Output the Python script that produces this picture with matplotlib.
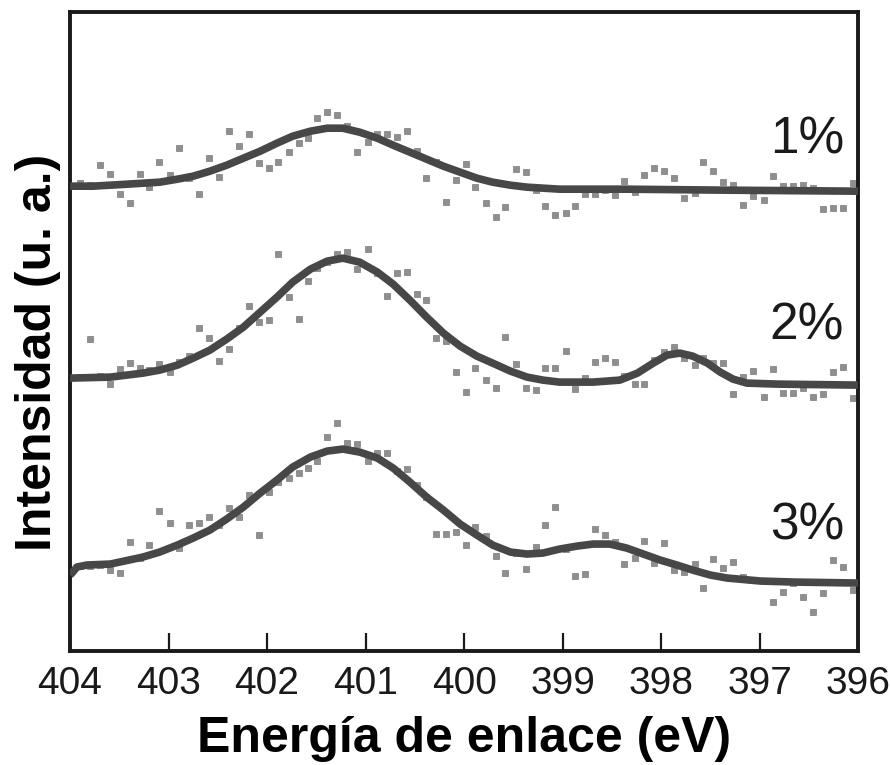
import numpy as np
import matplotlib
matplotlib.use("Agg")
import matplotlib.pyplot as plt

plt.rcParams["font.family"] = ["Liberation Sans", "DejaVu Sans"]

# binding energy of the measured points (eV)
energy = [403.90, 403.80, 403.70, 403.59, 403.49, 403.39, 403.29, 403.20, 403.10, 402.99,
          402.89, 402.79, 402.69, 402.59, 402.49, 402.39, 402.28, 402.18, 402.08, 401.98,
          401.89, 401.78, 401.68, 401.58, 401.49, 401.39, 401.29, 401.19, 401.09, 400.98,
          400.88, 400.78, 400.68, 400.58, 400.48, 400.39, 400.28, 400.18, 400.08, 399.98,
          399.89, 399.78, 399.68, 399.58, 399.47, 399.37, 399.27, 399.18, 399.08, 398.97,
          398.87, 398.77, 398.67, 398.57, 398.47, 398.38, 398.27, 398.17, 398.07, 397.97,
          397.87, 397.77, 397.66, 397.57, 397.47, 397.37, 397.27, 397.17, 397.07, 396.96,
          396.86, 396.76, 396.66, 396.56, 396.46, 396.36, 396.25, 396.15, 396.05]

# measured intensities (a.u., curves already offset)
pts_1 = [468, 466, 486, 477, 457, 448, 477, 464, 489, 476,
         503, 473, 457, 493, 474, 520, 505, 517, 488, 483,
         489, 499, 508, 513, 533, 539, 536, 525, 499, 509,
         517, 517, 514, 520, 500, 473, 489, 449, 471, 487,
         464, 448, 434, 444, 482, 479, 461, 445, 436, 438,
         445, 457, 457, 461, 456, 470, 459, 476, 483, 480,
         473, 453, 458, 489, 480, 469, 466, 446, 455, 451,
         475, 465, 465, 466, 463, 442, 443, 443, 468]
pts_2 = [274, 312, 275, 267, 282, 288, 283, 281, 287, 279,
         289, 295, 323, 313, 290, 302, 323, 345, 329, 331,
         397, 354, 332, 370, 383, 389, 397, 399, 382, 402,
         378, 355, 378, 379, 357, 351, 313, 310, 279, 259,
         283, 271, 263, 314, 287, 263, 261, 283, 283, 300,
         262, 273, 289, 293, 289, 275, 267, 267, 291, 299,
         304, 293, 286, 293, 288, 288, 257, 274, 280, 254,
         282, 258, 258, 263, 254, 257, 279, 284, 253]
pts_3 = [85, 85, 86, 81, 78, 109, 93, 106, 140, 128,
         103, 126, 128, 134, 126, 143, 134, 156, 116, 159,
         169, 173, 178, 183, 190, 214, 228, 208, 207, 190,
         198, 198, 180, 182, 166, 154, 117, 117, 119, 106,
         124, 115, 95, 78, 98, 82, 104, 126, 144, 102,
         75, 77, 122, 116, 109, 87, 93, 110, 88, 108,
         81, 79, 87, 63, 92, 83, 89, 74, 71, 70,
         49, 59, 68, 54, 39, 58, 91, 84, 61]

# fitted envelopes
fit_e1 = [404.00, 403.77, 403.42, 403.09, 402.91, 402.75, 402.58, 402.41, 402.24, 402.07,
          401.90, 401.74, 401.56, 401.39, 401.23, 401.06, 400.88, 400.72, 400.55, 400.38,
          400.21, 400.04, 399.87, 399.71, 399.53, 399.36, 399.03, 398.35, 397.33, 396.00]
fit_1 = [465, 465, 467, 469, 472, 475, 480, 486, 493, 500,
         508, 515, 520, 523, 523, 519, 513, 506, 499, 492,
         485, 479, 473, 469, 466, 464, 462, 462, 461, 460]

fit_e2 = [404.00, 403.59, 403.26, 403.09, 402.91, 402.75, 402.58, 402.41, 402.24, 402.07,
          401.90, 401.74, 401.56, 401.39, 401.23, 401.06, 400.88, 400.72, 400.55, 400.38,
          400.21, 400.04, 399.87, 399.71, 399.53, 399.36, 399.20, 399.03, 398.69, 398.42,
          398.24, 398.08, 397.94, 397.81, 397.68, 397.53, 397.40, 397.27, 397.13, 396.82,
          396.00]
fit_2 = [273, 274, 278, 281, 286, 293, 301, 312, 324, 339,
         354, 369, 382, 390, 393, 389, 379, 367, 351, 334,
         318, 305, 295, 288, 280, 274, 271, 269, 269, 271,
         278, 288, 296, 298, 295, 288, 279, 272, 268, 267,
         266]

fit_e3 = [404.00, 403.98, 403.93, 403.83, 403.59, 403.26, 403.09, 402.91, 402.75, 402.58,
          402.41, 402.24, 402.07, 401.90, 401.74, 401.56, 401.39, 401.23, 401.06, 400.88,
          400.72, 400.55, 400.38, 400.21, 400.04, 399.87, 399.71, 399.53, 399.36, 399.20,
          399.03, 398.85, 398.69, 398.52, 398.35, 398.18, 398.01, 397.84, 397.68, 397.50,
          397.33, 396.99, 396.66, 396.00]
fit_3 = [76, 78, 84, 86, 87, 94, 99, 106, 113, 121,
         132, 144, 158, 171, 184, 194, 200, 202, 199, 193,
         183, 169, 154, 141, 127, 116, 106, 99, 97, 98,
         102, 105, 107, 107, 103, 97, 91, 86, 81, 76,
         73, 70, 69, 68]

labels = ["1%", "2%", "3%"]
label_y = [0.80, 0.509, 0.196]

fig = plt.figure(figsize=(8.91, 7.65), dpi=100)
ax = fig.add_axes([0.0786, 0.149, 0.8845, 0.835])

for pts in (pts_1, pts_2, pts_3):
    ax.plot(energy, pts, "s", color="#8f8f8f", ms=4.2, mec="#7a7a7a", mew=0.5, zorder=2)
for fe, f in ((fit_e1, fit_1), (fit_e2, fit_2), (fit_e3, fit_3)):
    ax.plot(fe, f, color="#474747", lw=5.5, solid_capstyle="butt",
            solid_joinstyle="round", zorder=3)

for lab, yy in zip(labels, label_y):
    ax.text(0.935, yy, lab, transform=ax.transAxes, ha="center", va="center",
            fontsize=37, color="#1a1a1a")

ax.set_xlim(404, 396)
ax.set_ylim(0, 639)
ax.set_xticks([404, 403, 402, 401, 400, 399, 398, 397, 396])
ax.set_yticks([])
ax.tick_params(axis="x", direction="in", length=13, width=1.6, labelsize=28, pad=11,
               colors="#1a1a1a")
for s in ax.spines.values():
    s.set_linewidth(2.8)
    s.set_color("#1a1a1a")

ax.set_xlabel("Energía de enlace (eV)", fontsize=36, fontweight="bold", labelpad=10)
ax.set_ylabel("Intensidad (u. a.)", fontsize=36, fontweight="bold")
ax.yaxis.set_label_coords(-0.012, 0.468)

fig.savefig("out.png", dpi=100)
